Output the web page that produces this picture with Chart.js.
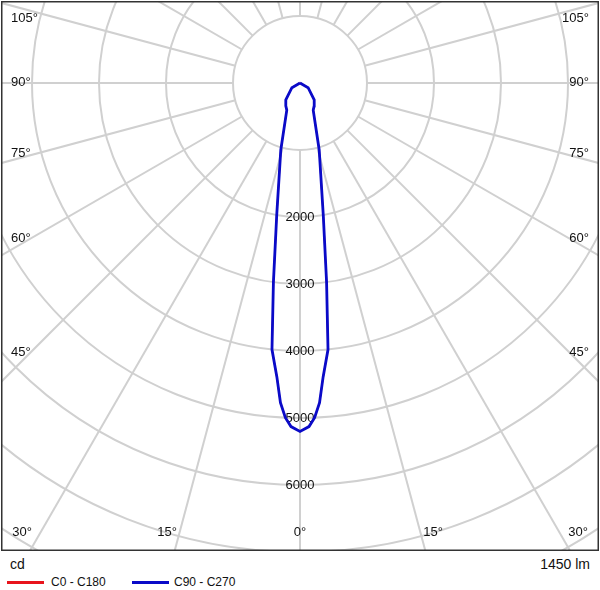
<!DOCTYPE html>
<html>
<head>
<meta charset="utf-8">
<script src="https://cdn.jsdelivr.net/npm/chart.js"></script>
<style>
  body { margin: 0; background: #fff; font-family: Arial, "Liberation Sans", sans-serif; }
  #wrap { position: absolute; left: 1px; top: 1px; width: 598px; height: 550px; }
  .txt { position: absolute; font-size: 14px; color: #111; }
  .leg { position: absolute; top: 575px; font-size: 12px; color: #111; }
  .sw { position: absolute; top: 581px; height: 3px; width: 37px; }
</style>
</head>
<body>
<div id="wrap"><canvas id="c" width="598" height="550"></canvas></div>
<div class="txt" style="left:10px;top:556px;">cd</div>
<div class="txt" style="right:10px;top:556px;">1450 lm</div>
<div class="sw" style="left:7px;background:#e8141c;"></div>
<div class="leg" style="left:51px;">C0 - C180</div>
<div class="sw" style="left:132px;background:#0a0ac8;"></div>
<div class="leg" style="left:174px;">C90 - C270</div>
<script>
// gamma angles (deg from nadir) and intensities (cd)
const angles = [0, 1.5, 2.5, 3.5, 4.5, 6, 7.6, 10, 16, 26, 32, 40, 60, 90];
const c0c180 = [5200, 5130, 5000, 4780, 4400, 4000, 3000, 2000, 1040, 450, 400, 330, 140, 0];
const c90c270 = [5200, 5130, 5000, 4780, 4400, 4000, 3000, 2000, 1040, 450, 400, 330, 140, 0];
const ringValues = [1000, 2000, 3000, 4000, 5000, 6000, 7000, 8000, 9000, 10000];
const ringLabels = ['2000', '3000', '4000', '5000', '6000'];
const spokeAngles = [0, 15, 30, 45, 60, 75, 90, 105, 120, 135, 150, 165, 180];
const angleLabels = ['105°', '90°', '75°', '60°', '45°', '30°', '15°', '0°'];

function toXY(vals) {
  const pts = [];
  for (let i = angles.length - 1; i >= 0; i--) {
    const a = angles[i] * Math.PI / 180;
    pts.push({ x: -vals[i] * Math.sin(a), y: -vals[i] * Math.cos(a) });
  }
  for (let i = 1; i < angles.length; i++) {
    const a = angles[i] * Math.PI / 180;
    pts.push({ x: vals[i] * Math.sin(a), y: -vals[i] * Math.cos(a) });
  }
  return pts;
}

const k = 0.067; // px per cd
const polarGrid = {
  id: 'polarGrid',
  beforeDatasetsDraw(chart) {
    const ctx = chart.ctx, xs = chart.scales.x, ys = chart.scales.y;
    const cx = xs.getPixelForValue(0), cy = ys.getPixelForValue(0);
    const r1 = xs.getPixelForValue(1000) - cx;
    ctx.save();
    ctx.strokeStyle = '#d0d0d0';
    ctx.lineWidth = 2;
    ringValues.forEach(v => {
      ctx.beginPath();
      ctx.arc(cx, cy, xs.getPixelForValue(v) - cx, 0, Math.PI * 2);
      ctx.stroke();
    });
    spokeAngles.forEach(d => {
      const a = d * Math.PI / 180;
      [1, -1].forEach(s => {
        ctx.beginPath();
        ctx.moveTo(cx + s * r1 * Math.sin(a), cy + r1 * Math.cos(a));
        ctx.lineTo(cx + s * 1000 * Math.sin(a), cy + 1000 * Math.cos(a));
        ctx.stroke();
      });
    });
    ctx.fillStyle = '#111';
    ctx.font = '13px Arial, "Liberation Sans", sans-serif';
    ctx.textAlign = 'center';
    ctx.textBaseline = 'middle';
    ringLabels.forEach(t => ctx.fillText(t, cx, ys.getPixelForValue(-Number(t))));
    // angle labels along the frame
    const side = [17, 81, 152, 237, 351];
    for (let i = 0; i < 5; i++) {
      ctx.textAlign = 'left';
      ctx.fillText(angleLabels[i], 10, side[i]);
      ctx.textAlign = 'right';
      ctx.fillText(angleLabels[i], 588, side[i]);
    }
    ctx.textAlign = 'center';
    ctx.fillText(angleLabels[5], 21, 531);
    ctx.fillText(angleLabels[5], 577, 531);
    ctx.fillText(angleLabels[6], 166, 531);
    ctx.fillText(angleLabels[6], 432, 531);
    ctx.fillText(angleLabels[7], cx, 531);
    ctx.restore();
  },
  afterDraw(chart) {
    const ctx = chart.ctx;
    ctx.save();
    ctx.strokeStyle = '#333';
    ctx.lineWidth = 1.5;
    ctx.strokeRect(0.75, 0.75, chart.width - 1.5, chart.height - 1.5);
    ctx.restore();
  }
};

new Chart(document.getElementById('c'), {
  type: 'scatter',
  data: {
    datasets: [
      { label: 'C0 - C180', data: toXY(c0c180), order: 2, showLine: true, borderColor: '#e8141c', borderWidth: 1.5, pointRadius: 0, tension: 0 },
      { label: 'C90 - C270', data: toXY(c90c270), order: 1, showLine: true, borderColor: '#0a0ac8', borderWidth: 2.8, pointRadius: 0, tension: 0 }
    ]
  },
  options: {
    responsive: false,
    animation: false,
    layout: { padding: 0 },
    plugins: { legend: { display: false }, tooltip: { enabled: false } },
    scales: {
      x: { display: false, min: -299 / k, max: 299 / k },
      y: { display: false, min: -468 / k, max: 82 / k }
    }
  },
  plugins: [polarGrid]
});
</script>
</body>
</html>
